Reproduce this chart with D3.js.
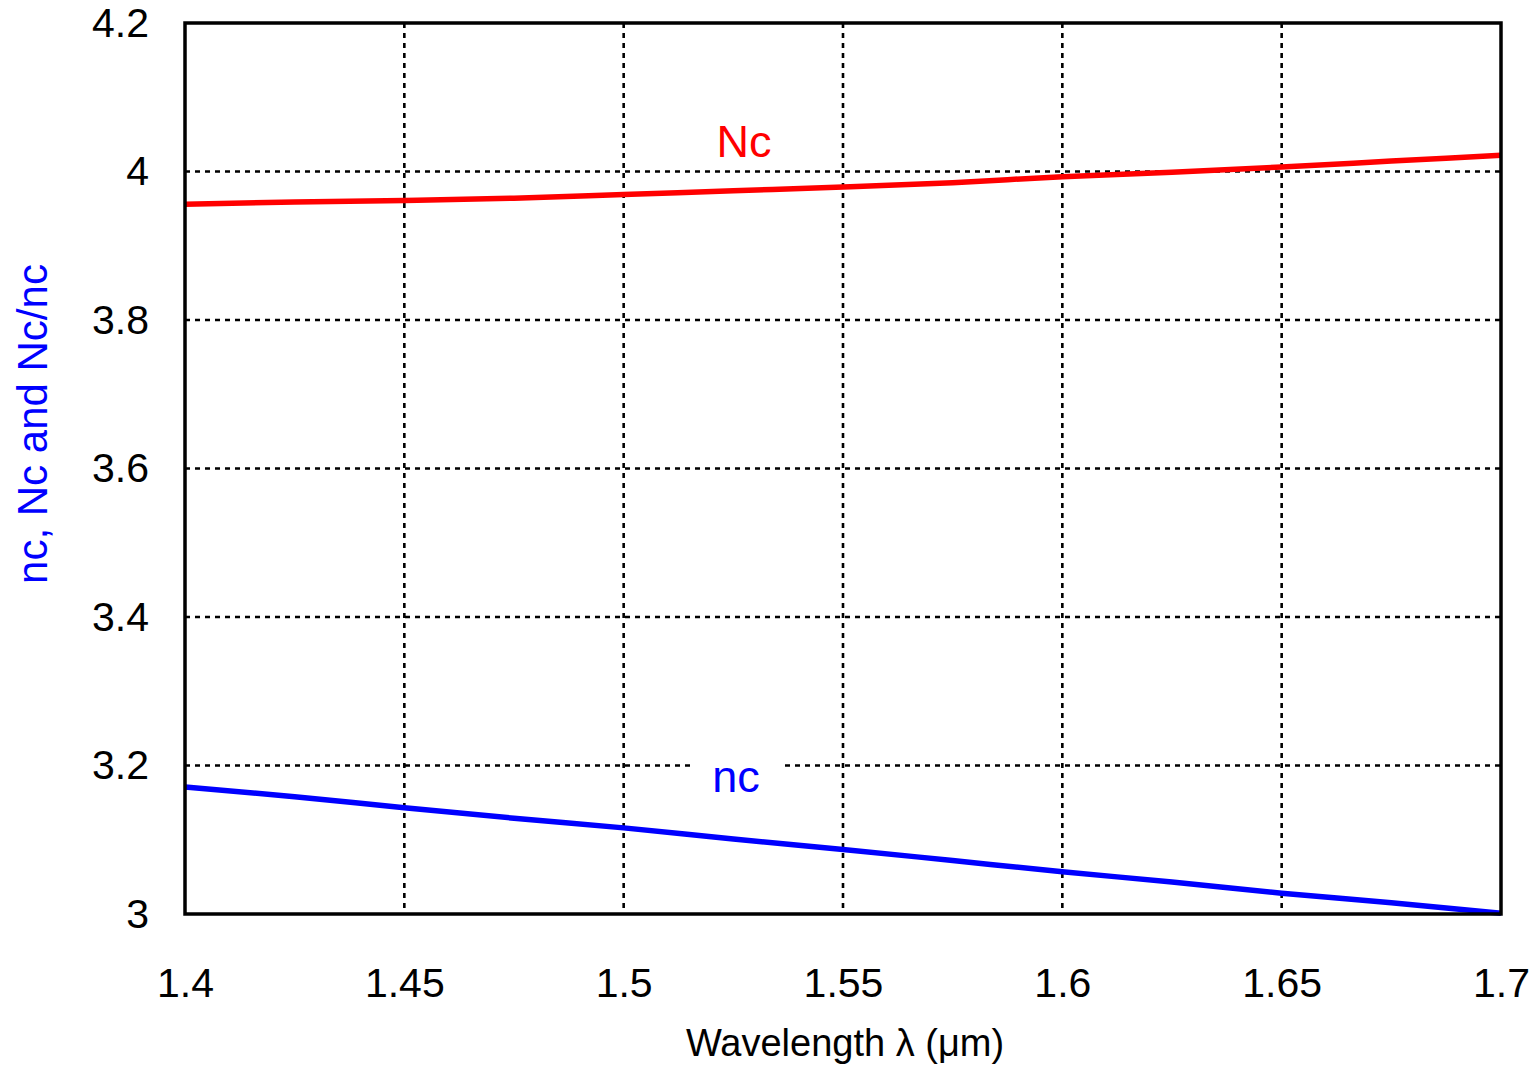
<!DOCTYPE html>
<html>
<head>
<meta charset="utf-8">
<script src="https://cdn.jsdelivr.net/npm/d3@7"></script>
<style>
  html, body { margin: 0; padding: 0; background: #fff; }
  svg { display: block; }
  text { font-family: "Liberation Sans", Arial, sans-serif; }
</style>
</head>
<body>
<svg id="chart" width="1539" height="1066"></svg>
<script>
// Wavelength samples (µm)
const wavelength = [1.4, 1.425, 1.45, 1.475, 1.5, 1.525, 1.55, 1.575, 1.6, 1.625, 1.65, 1.675, 1.7];
// Group index Nc
const NcValues = [3.956, 3.959, 3.961, 3.964, 3.969, 3.974, 3.979, 3.985, 3.993, 3.999, 4.006, 4.014, 4.022];
// Refractive index nc
const ncValues = [3.171, 3.158, 3.143, 3.129, 3.116, 3.101, 3.087, 3.072, 3.057, 3.043, 3.028, 3.015, 3.001];

const xTicks = [1.4, 1.45, 1.5, 1.55, 1.6, 1.65, 1.7];
const yTicks = [3, 3.2, 3.4, 3.6, 3.8, 4, 4.2];

const svg = d3.select("#chart");
const plotLeft = 185, plotRight = 1501, plotTop = 23, plotBottom = 914;

const x = d3.scaleLinear().domain([1.4, 1.7]).range([plotLeft, plotRight]);
const y = d3.scaleLinear().domain([3, 4.2]).range([plotBottom, plotTop]);

// dotted grid
const grid = svg.append("g")
  .attr("stroke", "#000").attr("stroke-width", 2.6).attr("stroke-dasharray", "5,5");
grid.selectAll("line.v").data(xTicks.slice(1, -1)).join("line")
  .attr("x1", d => x(d)).attr("x2", d => x(d))
  .attr("y1", plotTop).attr("y2", plotBottom);
grid.selectAll("line.h").data(yTicks.slice(1, -1)).join("line")
  .attr("x1", plotLeft).attr("x2", plotRight)
  .attr("y1", d => y(d)).attr("y2", d => y(d));

// curves
const line = d3.line().x((d, i) => x(wavelength[i])).y(d => y(d)).curve(d3.curveMonotoneX);
svg.append("path").datum(NcValues).attr("d", line)
  .attr("fill", "none").attr("stroke", "#ff0000").attr("stroke-width", 5.5);
svg.append("path").datum(ncValues).attr("d", line)
  .attr("fill", "none").attr("stroke", "#0000ff").attr("stroke-width", 5.5);

// frame
svg.append("rect").attr("x", plotLeft).attr("y", plotTop)
  .attr("width", plotRight - plotLeft).attr("height", plotBottom - plotTop)
  .attr("fill", "none").attr("stroke", "#000").attr("stroke-width", 3.5);

// axes (ticks drawn as labels only)
const xAxis = d3.axisBottom(x).tickValues(xTicks).tickFormat(d3.format("")).tickSize(0).tickPadding(54);
const gx = svg.append("g").attr("transform", `translate(0,${plotBottom})`).call(xAxis);
gx.select(".domain").remove();
gx.selectAll("text").attr("font-size", 41).attr("fill", "#000")
  .attr("font-family", "'Liberation Sans', Arial, sans-serif");

const yAxis = d3.axisLeft(y).tickValues(yTicks).tickFormat(d3.format("")).tickSize(0).tickPadding(36);
const gy = svg.append("g").attr("transform", `translate(${plotLeft},0)`).call(yAxis);
gy.select(".domain").remove();
gy.selectAll("text").attr("font-size", 41).attr("fill", "#000")
  .attr("font-family", "'Liberation Sans', Arial, sans-serif");

// axis titles
svg.append("text").attr("x", 845).attr("y", 1056).attr("text-anchor", "middle")
  .attr("font-size", 38).attr("fill", "#000")
  .text("Wavelength  λ (μm)");
svg.append("text").attr("transform", "translate(47,424) rotate(-90)")
  .attr("text-anchor", "middle").attr("font-size", 42).attr("fill", "#0000ff")
  .text("nc, Nc and Nc/nc");

// curve labels
svg.append("text").attr("x", 744).attr("y", 157).attr("text-anchor", "middle")
  .attr("font-size", 45).attr("fill", "#ff0000").text("Nc");
const ncLabel = svg.append("g");
ncLabel.append("rect").attr("x", 690).attr("y", 752).attr("width", 95).attr("height", 30).attr("fill", "#fff");
ncLabel.append("text").attr("x", 736).attr("y", 792).attr("text-anchor", "middle")
  .attr("font-size", 45).attr("fill", "#0000ff").text("nc");
</script>
</body>
</html>
